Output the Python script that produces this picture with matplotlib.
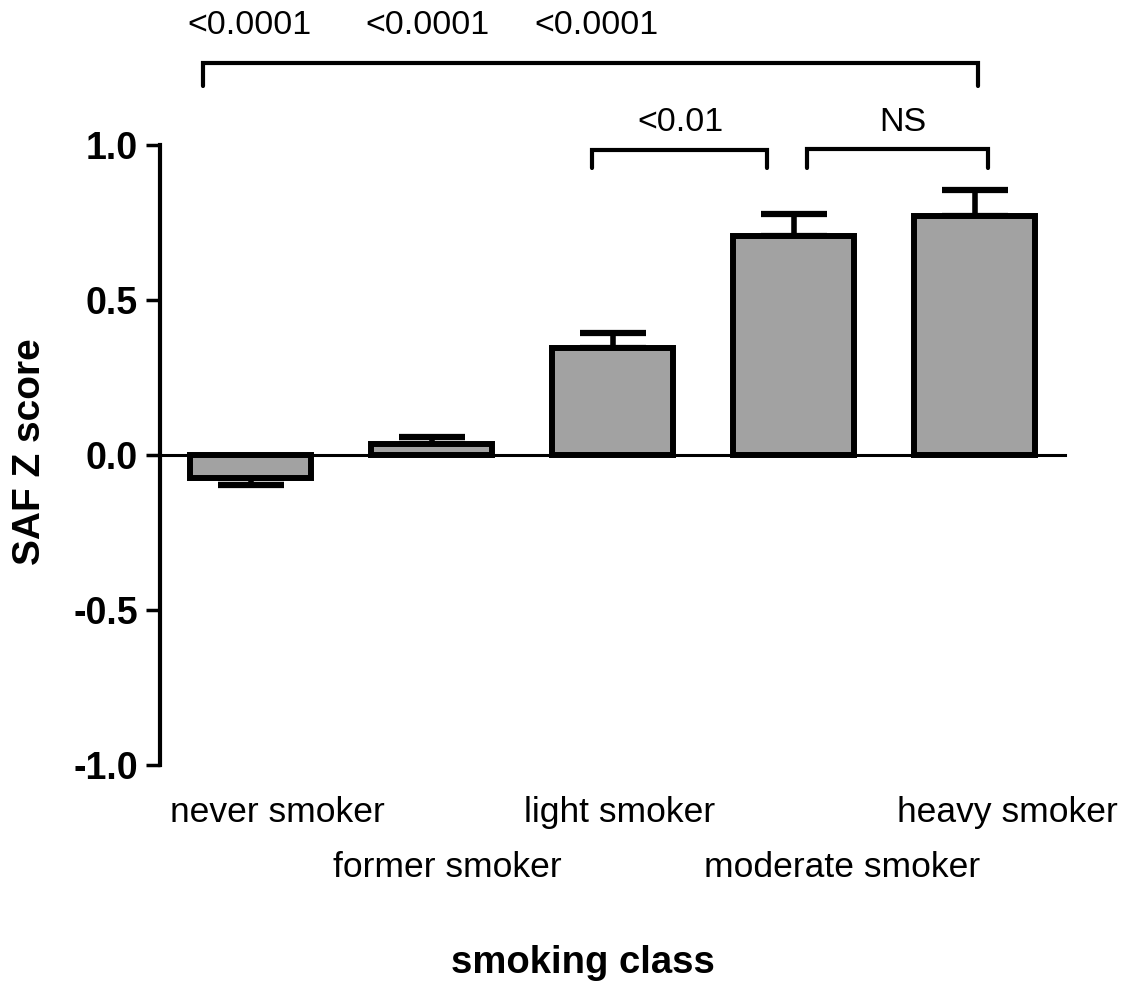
import matplotlib
matplotlib.use("Agg")
import numpy as np
from matplotlib import pyplot as plt

# data
categories = ["never smoker", "former smoker", "light smoker",
              "moderate smoker", "heavy smoker"]
z_mean = [-0.075, 0.037, 0.345, 0.707, 0.772]
z_sem = [0.022, 0.022, 0.05, 0.071, 0.083]
yticks = [-1.0, -0.5, 0.0, 0.5, 1.0]
ytick_labels = ["-1.0", "-0.5", "0.0", "0.5", "1.0"]
top_pvals = ["<0.0001", "<0.0001", "<0.0001"]
pair_pvals = ["<0.01", "NS"]

plt.rcParams["font.family"] = ["Liberation Sans", "DejaVu Sans"]
plt.rcParams["axes.unicode_minus"] = False

fig = plt.figure(figsize=(11.35, 9.83), dpi=100)
ax = fig.add_axes([160 / 1135, 1 - 765 / 983, 905 / 1135, 620 / 983])

x = np.arange(len(categories))
ax.bar(x, z_mean, width=0.67, color="#a2a2a2", edgecolor="black",
       linewidth=4.3, zorder=3)

# one-sided error bars (away from zero)
lower = [s if m < 0 else 0 for m, s in zip(z_mean, z_sem)]
upper = [s if m >= 0 else 0 for m, s in zip(z_mean, z_sem)]
ax.errorbar(x, z_mean, yerr=[lower, upper], fmt="none", ecolor="black",
            elinewidth=4, capsize=24, capthick=4.5, zorder=2)

ax.set_xlim(-0.5, 4.5)
ax.set_ylim(-1.0, 1.0)
ax.spines["top"].set_visible(False)
ax.spines["right"].set_visible(False)
ax.spines["bottom"].set_position(("data", 0))
ax.spines["bottom"].set_linewidth(2.2)
ax.spines["left"].set_linewidth(3)
ax.set_xticks([])
ax.set_yticks(yticks)
ax.set_yticklabels(ytick_labels, fontsize=27, fontweight="bold")
ax.tick_params(axis="y", length=10, width=2.5, pad=6)

# staggered category labels
label_x = [0.15, 1.09, 2.04, 3.27, 4.18]
label_y = [-0.076, -0.166, -0.076, -0.166, -0.076]
for lx, ly, name in zip(label_x, label_y, categories):
    ax.text(lx, ly, name, transform=ax.get_xaxis_transform(),
            ha="center", va="center", fontsize=25.5)

# significance brackets
def bracket(x0, x1, ytop, ybot):
    ax.plot([x0, x0, x1, x1], [ybot, ytop, ytop, ybot], color="black",
            lw=3, clip_on=False, solid_capstyle="round",
            solid_joinstyle="miter")

bracket(-0.26, 4.02, 1.265, 1.19)
bracket(1.887, 2.854, 0.984, 0.925)
bracket(3.075, 4.075, 0.987, 0.926)

for tx, lab in zip([-0.008, 0.975, 1.914], top_pvals):
    ax.text(tx, 1.387, lab, ha="center", va="center", fontsize=24.5,
            clip_on=False)
for tx, lab in zip([2.373, 3.605], pair_pvals):
    ax.text(tx, 1.074, lab, ha="center", va="center", fontsize=24.5,
            clip_on=False)

fig.text(30 / 1135, 1 - 452 / 983, "SAF Z score", rotation=90,
         ha="center", va="center", fontsize=28, fontweight="bold")
fig.text(583 / 1135, 1 - 973 / 983, "smoking class", ha="center",
         va="baseline", fontsize=27.5, fontweight="bold")

fig.savefig("out.png", dpi=100)
